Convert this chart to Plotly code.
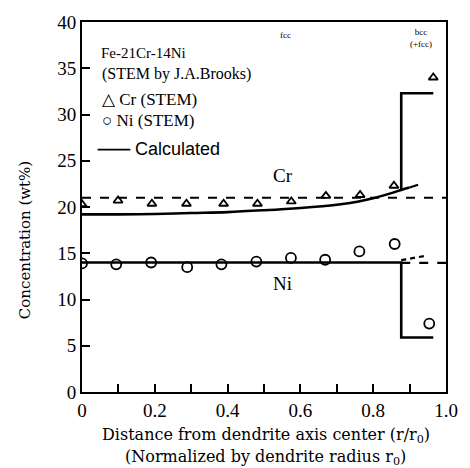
import plotly.graph_objects as go

# STEM measurements
cr_x = [0.0, 0.099, 0.192, 0.287, 0.389, 0.482, 0.575, 0.670, 0.764, 0.857, 0.965]
cr_y = [20.3, 20.7, 20.35, 20.35, 20.35, 20.35, 20.6, 21.2, 21.3, 22.3, 34.0]
ni_x = [0.0, 0.094, 0.19, 0.289, 0.383, 0.479, 0.574, 0.668, 0.762, 0.859, 0.954]
ni_y = [13.9, 13.8, 14.0, 13.5, 13.8, 14.1, 14.5, 14.3, 15.2, 16.0, 7.4]

# Calculated Cr (fcc)
cr_calc_x = [0.0, 0.1, 0.2, 0.3, 0.4, 0.5, 0.6, 0.7, 0.76, 0.8, 0.85, 0.877, 0.9]
cr_calc_y = [19.2, 19.2, 19.25, 19.35, 19.45, 19.65, 19.9, 20.25, 20.6, 20.95, 21.5, 21.85, 22.1]
cr_calc_dash_x = [0.9, 0.945]
cr_calc_dash_y = [22.1, 22.7]
# Cr step to bcc
cr_step_x = [0.877, 0.877, 0.965]
cr_step_y = [21.85, 32.3, 32.3]
# Cr nominal (dashed)
cr_nom_x = [0.0, 1.0]
cr_nom_y = [21.0, 21.0]

# Calculated Ni
ni_calc_x = [0.0, 0.877, 0.877, 0.965]
ni_calc_y = [14.0, 14.0, 5.9, 5.9]
ni_calc_dash_x = [0.877, 0.94]
ni_calc_dash_y = [14.25, 14.7]
ni_nom_x = [0.877, 1.0]
ni_nom_y = [13.95, 13.95]

x_tickvals = [i / 10 for i in range(11)]
x_ticktext = ["0", "", "0.2", "", "0.4", "", "0.6", "", "0.8", "", "1.0"]
y_tickvals = [0, 5, 10, 15, 20, 25, 30, 35, 40]

FONT = "Liberation Serif, Times New Roman, serif"
WIDE = "DejaVu Serif, serif"
SANS = "Liberation Sans, Arial, sans-serif"
K = "black"

fig = go.Figure()
line_solid = dict(color=K, width=2.6)
line_dash = dict(color=K, width=2.2, dash="dash")

fig.add_trace(go.Scatter(x=cr_nom_x, y=cr_nom_y, mode="lines", line=line_dash))
fig.add_trace(go.Scatter(x=ni_nom_x, y=ni_nom_y, mode="lines", line=line_dash))
fig.add_trace(go.Scatter(x=cr_calc_x, y=cr_calc_y, mode="lines", line=dict(color=K, width=2.6, shape="spline")))
fig.add_trace(go.Scatter(x=cr_calc_dash_x, y=cr_calc_dash_y, mode="lines", line=line_dash))
fig.add_trace(go.Scatter(x=cr_step_x, y=cr_step_y, mode="lines", line=line_solid))
fig.add_trace(go.Scatter(x=ni_calc_x, y=ni_calc_y, mode="lines", line=line_solid))
fig.add_trace(go.Scatter(x=ni_calc_dash_x, y=ni_calc_dash_y, mode="lines", line=dict(color=K, width=2.2, dash="5px,4px")))
fig.add_trace(go.Scatter(x=cr_x, y=cr_y, mode="markers",
                         marker=dict(symbol="triangle-up-open", size=8, color=K, line=dict(width=1.8))))
fig.add_trace(go.Scatter(x=ni_x, y=ni_y, mode="markers",
                         marker=dict(symbol="circle-open", size=10, color=K, line=dict(width=1.8))))

ann = []
def txt(x, y, s, size=15, xanchor="left", xref="x", yref="y", family=FONT, **kw):
    ann.append(dict(x=x, y=y, text=s, xref=xref, yref=yref, showarrow=False,
                    xanchor=xanchor, yanchor="middle", font=dict(family=family, size=size, color=K), **kw))

txt(0.047, 36.6, "Fe-21Cr-14Ni", size=15)
txt(0.05, 34.4, "(STEM by J.A.Brooks)", size=16)
txt(0.05, 31.6, "△ Cr (STEM)", size=17)
txt(0.05, 29.4, "○ Ni (STEM)", size=17)
txt(0.14, 26.3, "Calculated", size=18, family=SANS)
fig.add_shape(type="line", x0=0.043, x1=0.133, y0=26.2, y1=26.2, line=dict(color=K, width=1.6))
txt(0.52, 23.4, "Cr", size=19)
txt(0.52, 11.7, "Ni", size=19)
txt(0.56, 38.6, "fcc", size=9, xanchor="center")
txt(0.93, 38.3, "bcc<br>(+fcc)", size=9, xanchor="center")
txt(0.505, -0.118, "Distance from dendrite axis center (r/r<sub>0</sub>)", size=16, xanchor="center",
    xref="paper", yref="paper", family=WIDE)
txt(0.505, -0.178, "(Normalized by dendrite radius r<sub>0</sub>)", size=16, xanchor="center",
    xref="paper", yref="paper", family=WIDE)
ann.append(dict(x=-0.157, y=0.41, xref="paper", yref="paper", text="Concentration (wt%)", showarrow=False,
                textangle=-90, xanchor="center", yanchor="middle", font=dict(family=WIDE, size=15, color=K)))

fig.update_layout(
    width=470, height=468,
    margin=dict(l=82, r=12, t=16, b=76),
    paper_bgcolor="white", plot_bgcolor="white",
    showlegend=False,
    annotations=ann,
    font=dict(family=FONT, color=K),
)
fig.update_xaxes(range=[0, 1.0], tickmode="array", tickvals=x_tickvals, ticktext=x_ticktext,
                 ticks="inside", ticklen=8, tickwidth=1.5, tickcolor=K,
                 showline=True, linecolor=K, linewidth=2, mirror=True, showgrid=False, zeroline=False,
                 tickfont=dict(family=FONT, size=19, color=K))
fig.update_yaxes(range=[0, 40], tickmode="array", tickvals=y_tickvals,
                 ticks="inside", ticklen=8, tickwidth=1.5, tickcolor=K,
                 showline=True, linecolor=K, linewidth=2, mirror=True, showgrid=False, zeroline=False,
                 tickfont=dict(family=FONT, size=19, color=K))

fig.write_html("out.html")
